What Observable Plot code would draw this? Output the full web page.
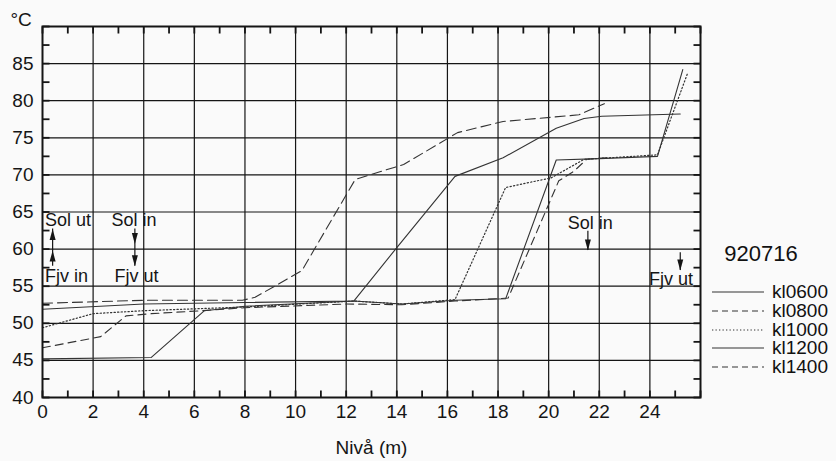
<!DOCTYPE html>
<html>
<head>
<meta charset="utf-8">
<script src="https://cdn.jsdelivr.net/npm/d3@7"></script>
<script src="https://cdn.jsdelivr.net/npm/@observablehq/plot@0.6"></script>
<style>
  html, body { margin: 0; padding: 0; background: #fafafa; }
  #wrap { position: relative; width: 836px; height: 461px; font-family: "Liberation Sans", Arial, sans-serif; color: #111; }
  #legend { position: absolute; left: 0; top: 0; }
  .lg-title { position: absolute; font-size: 22px; line-height: 22px; transform: translate(-50%, -50%); white-space: nowrap; }
  .lg-row { position: absolute; display: flex; align-items: center; height: 16px; line-height: 16px; transform: translateY(-50%); white-space: nowrap; font-size: 19px; }
  .lg-row svg { margin-right: 8px; display: block; }
</style>
</head>
<body>
<div id="wrap"></div>
<script>
// ---- Data ----
const seriesNames = ["kl0600", "kl0800", "kl1000", "kl1200", "kl1400"];
const legendTitle = "920716";

const kl0600_x = [0, 4.3, 6.4, 8, 12.3, 14.2, 16.3, 18.3, 20.3, 22, 24.3, 25.3];
const kl0600_y = [45.2, 45.4, 51.7, 52.3, 53.0, 52.6, 53.1, 53.3, 72.0, 72.2, 72.5, 84.2];

const kl0800_x = [0, 2.3, 3.3, 4.3, 6.3, 8, 12, 14.2, 16.3, 18.4, 20.4, 21.0, 21.5, 22.3];
const kl0800_y = [46.7, 48.2, 51.0, 51.3, 51.7, 52.1, 52.6, 52.5, 53.0, 53.4, 69.2, 70.5, 72.1, 72.3];

const kl1000_x = [0, 2, 4, 8, 12.3, 14.2, 16.3, 18.3, 20.1, 21.4, 24.3, 25.5];
const kl1000_y = [49.4, 51.3, 51.7, 52.2, 53.0, 52.6, 53.2, 68.3, 69.6, 72.1, 72.7, 83.8];

const kl1200_x = [0, 4, 8, 12.3, 14, 16.3, 18.2, 20.3, 21.4, 22.1, 25.2];
const kl1200_y = [51.9, 52.6, 52.8, 53.0, 60.2, 69.8, 72.3, 76.3, 77.6, 77.9, 78.2];

const kl1400_x = [0, 4, 7.9, 8.4, 10.25, 12.36, 14.27, 16.4, 18.2, 21.2, 22.2];
const kl1400_y = [52.7, 53.1, 53.1, 53.5, 57.1, 69.4, 71.4, 75.7, 77.2, 78.1, 79.6];

const xMajorTicks = [0, 2, 4, 6, 8, 10, 12, 14, 16, 18, 20, 22, 24];
const yMajorTicks = [40, 45, 50, 55, 60, 65, 70, 75, 80, 85];
const xMinorTicks = [0, 1, 2, 3, 4, 5, 6, 7, 8, 9, 10, 11, 12, 13, 14, 15, 16, 17, 18, 19, 20, 21, 22, 23, 24, 25, 26];
const yMinorTicks = [40, 42.5, 45, 47.5, 50, 52.5, 55, 57.5, 60, 62.5, 65, 67.5, 70, 72.5, 75, 77.5, 80, 82.5, 85, 87.5, 90];

// annotations
const noteText = ["Sol ut", "Fjv in", "Sol in", "Fjv ut", "Sol in", "Fjv ut"];
const noteX = [0.1, 0.1, 3.62, 3.71, 21.64, 24.83];
const noteY = [63.9, 56.4, 63.9, 56.4, 63.5, 55.9];
const noteAnchor = ["start", "start", "middle", "middle", "middle", "middle"];

const shaftX = [0.4, 3.65, 21.55, 25.2];
const shaftY1 = [57.7, 62.7, 62.4, 59.5];
const shaftY2 = [62.7, 57.7, 59.8, 57.1];
const headX = [0.4, 0.4, 3.65, 3.65, 21.55, 25.2];
const headY = [62.7, 59.8, 60.7, 57.7, 59.8, 57.1];
const headDir = ["up", "up", "down", "down", "down", "down"];

// ---- Layout ----
const W = 836, H = 461, mL = 42, mR = 136, mT = 26, mB = 64;
const xDomain = [0, 26], yDomain = [40, 90];
const frameW = W - mL - mR, frameH = H - mT - mB;
const tickPx = 7;
const xTickLen = tickPx * (xDomain[1] - xDomain[0]) / frameW;
const yTickLen = tickPx * (yDomain[1] - yDomain[0]) / frameH;

// ---- Build tables ----
const seriesXs = [kl0600_x, kl0800_x, kl1000_x, kl1200_x, kl1400_x];
const seriesYs = [kl0600_y, kl0800_y, kl1000_y, kl1200_y, kl1400_y];
const table = seriesNames.map((name, i) => seriesXs[i].map((x, j) => ({series: name, x, y: seriesYs[i][j]})));
const styles = [
  {dash: null, width: 1.1},
  {dash: "8,5", width: 1.1},
  {dash: "1.3,2.2", width: 1.2},
  {dash: null, width: 1.1},
  {dash: "10,5", width: 1.1}
];
const notes = noteText.map((t, i) => ({t, x: noteX[i], y: noteY[i], a: noteAnchor[i]}));
const shafts = shaftX.map((x, i) => ({x, y1: shaftY1[i], y2: shaftY2[i]}));
const heads = headX.map((x, i) => ({x, y: headY[i], dir: headDir[i]}));

// all edge ticks as short links (same kind of segment as the arrow shafts)
const edgeTicks = [
  ...xMinorTicks.map(x => ({x1: x, x2: x, y1: yDomain[0], y2: yDomain[0] + yTickLen})),
  ...xMinorTicks.map(x => ({x1: x, x2: x, y1: yDomain[1] - yTickLen, y2: yDomain[1]})),
  ...yMinorTicks.map(y => ({x1: xDomain[0], x2: xDomain[0] + xTickLen, y1: y, y2: y})),
  ...yMinorTicks.map(y => ({x1: xDomain[1] - xTickLen, x2: xDomain[1], y1: y, y2: y}))
];

const upHead = {draw(ctx) { ctx.moveTo(0, 0); ctx.lineTo(-3, 11); ctx.lineTo(3, 11); ctx.closePath(); }};
const downHead = {draw(ctx) { ctx.moveTo(0, 0); ctx.lineTo(-3, -11); ctx.lineTo(3, -11); ctx.closePath(); }};

const ink = "#151515";
const lineInk = "#333";

const chart = Plot.plot({
  width: W,
  height: H,
  marginLeft: mL,
  marginRight: mR,
  marginTop: mT,
  marginBottom: mB,
  style: {background: "transparent", fontFamily: "'Liberation Sans', Arial, sans-serif", color: ink, overflow: "visible"},
  x: {domain: xDomain},
  y: {domain: yDomain},
  marks: [
    Plot.gridX(xMajorTicks.filter(d => d > 0), {stroke: ink, strokeOpacity: 1, strokeWidth: 1.2}),
    Plot.gridY(yMajorTicks.filter(d => d > 40), {stroke: ink, strokeOpacity: 1, strokeWidth: 1.2}),
    // tick labels
    Plot.axisX(xMajorTicks, {anchor: "bottom", tickSize: 0, tickPadding: 7, fontSize: 19, label: "Nivå (m)", labelAnchor: "center", labelOffset: 56, labelArrow: "none"}),
    Plot.axisY(yMajorTicks, {anchor: "left", tickSize: 0, tickPadding: 9, fontSize: 19, label: null}),
    Plot.text(["°C"], {frameAnchor: "top-left", dx: -32, dy: -7, textAnchor: "start", lineAnchor: "middle", fontSize: 19, fill: ink}),
    ...table.map((d, i) => Plot.line(d, {x: "x", y: "y", stroke: lineInk, strokeWidth: styles[i].width, strokeDasharray: styles[i].dash, curve: "linear"})),
    Plot.ruleX(shafts, {x: "x", y1: "y1", y2: "y2", stroke: ink, strokeWidth: 1.2}),
    Plot.dot(heads.filter(d => d.dir === "up"), {x: "x", y: "y", symbol: upHead, fill: ink, stroke: "none", r: 4}),
    Plot.dot(heads.filter(d => d.dir === "down"), {x: "x", y: "y", symbol: downHead, fill: ink, stroke: "none", r: 4}),
    Plot.text(notes.filter(d => d.a === "start"), {x: "x", y: "y", text: "t", textAnchor: "start", fontSize: 18, fill: ink}),
    Plot.text(notes.filter(d => d.a === "middle"), {x: "x", y: "y", text: "t", textAnchor: "middle", fontSize: 18, fill: ink}),
    Plot.frame({stroke: ink, strokeWidth: 2}),
    // inward minor ticks on all four sides, drawn last
    Plot.link(edgeTicks, {x1: "x1", y1: "y1", x2: "x2", y2: "y2", stroke: ink, strokeWidth: 1.8})
  ]
});

const wrap = document.getElementById("wrap");
wrap.appendChild(chart);

// legend (HTML overlay on the right)
const legend = document.createElement("div");
legend.id = "legend";
const title = document.createElement("div");
title.className = "lg-title";
title.textContent = legendTitle;
title.style.left = "761px";
title.style.top = "254px";
legend.appendChild(title);
const rowTops = [292, 310.5, 329.5, 348, 367];
seriesNames.forEach((name, i) => {
  const row = document.createElement("div");
  row.className = "lg-row";
  row.style.left = "712px";
  row.style.top = rowTops[i] + "px";
  const ns = "http://www.w3.org/2000/svg";
  const s = document.createElementNS(ns, "svg");
  s.setAttribute("width", "52");
  s.setAttribute("height", "10");
  const l = document.createElementNS(ns, "line");
  l.setAttribute("x1", "0"); l.setAttribute("x2", "52");
  l.setAttribute("y1", "5"); l.setAttribute("y2", "5");
  l.setAttribute("stroke", lineInk);
  l.setAttribute("stroke-width", styles[i].width);
  if (styles[i].dash) l.setAttribute("stroke-dasharray", i === 2 ? "1.3,2.2" : "6,4");
  s.appendChild(l);
  row.appendChild(s);
  const t = document.createElement("span");
  t.textContent = name;
  row.appendChild(t);
  legend.appendChild(row);
});
wrap.appendChild(legend);
</script>
</body>
</html>
